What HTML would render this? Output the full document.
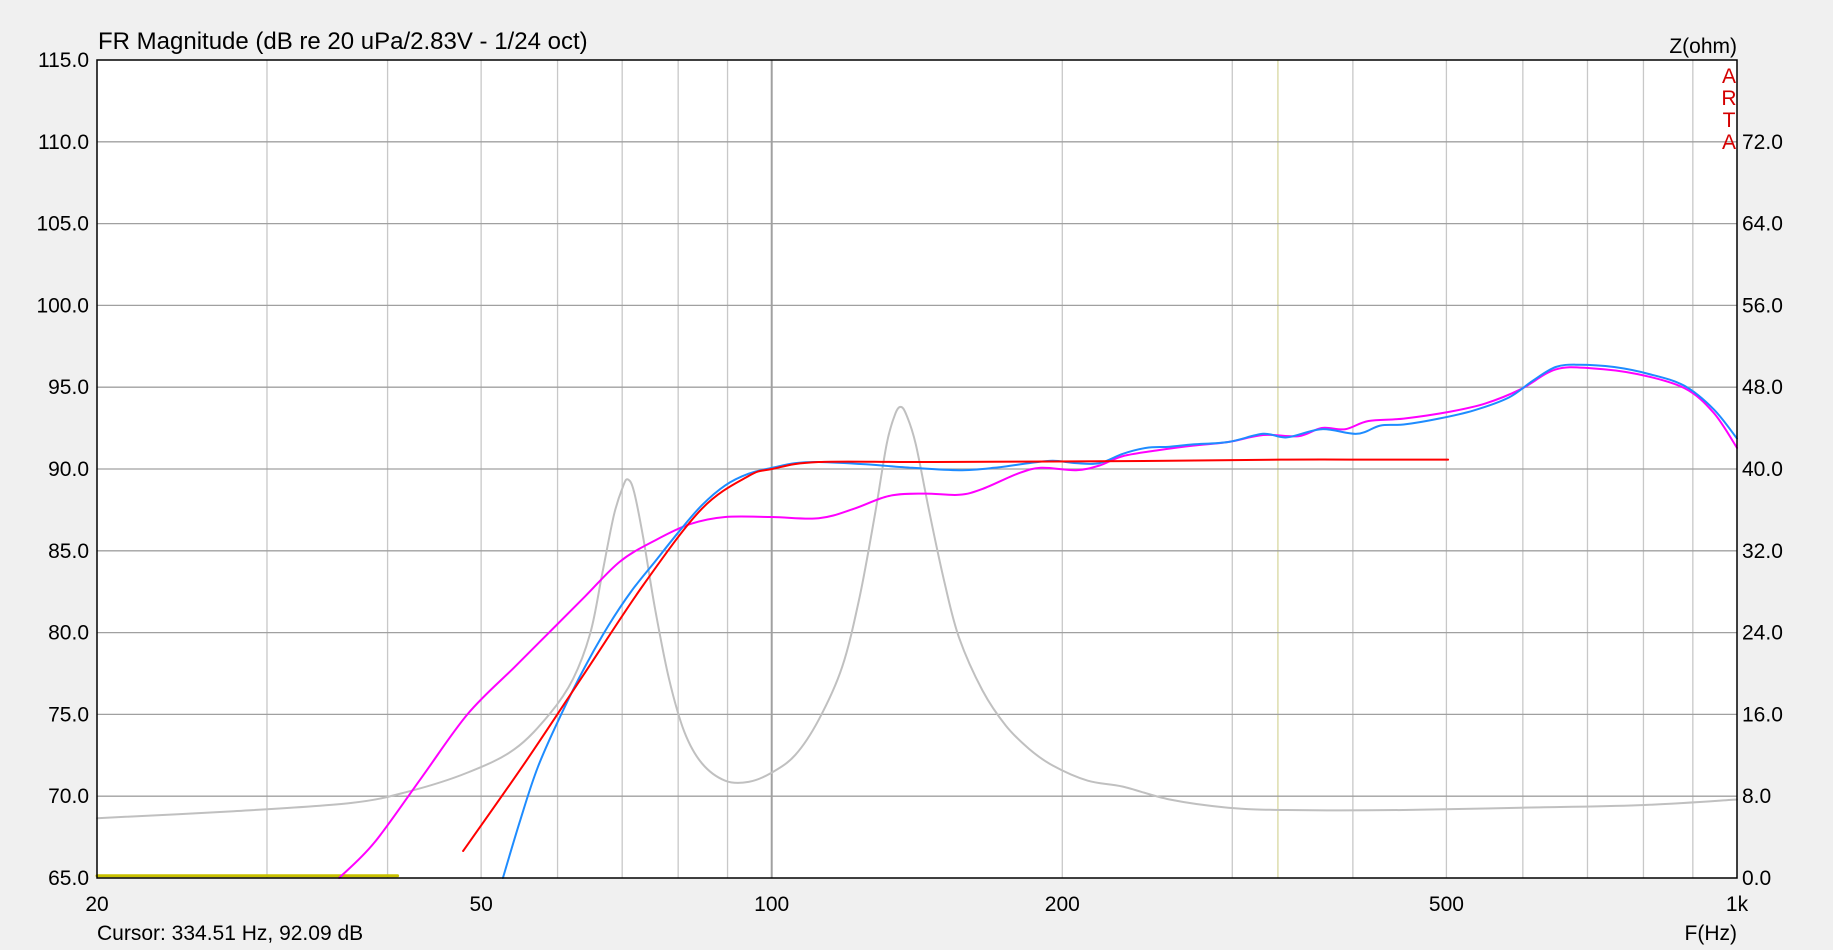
<!DOCTYPE html>
<html><head><meta charset="utf-8"><style>
html,body{margin:0;padding:0;background:#f0f0f0;}
svg{display:block;font-family:"Liberation Sans",sans-serif;}
</style></head><body>
<svg id="s" width="1833" height="950" viewBox="0 0 1833 950" xmlns="http://www.w3.org/2000/svg">
<rect x="0" y="0" width="1833" height="950" fill="#f0f0f0"/>
<rect x="97" y="60" width="1640" height="818" fill="#fff"/>
<g id="grid"></g>
<g id="curves" fill="none" stroke-linejoin="round" stroke-linecap="round"></g>
<rect x="97" y="60" width="1640" height="818" fill="none" stroke="#000" stroke-width="1.5"/>
<g font-size="21" fill="#000">
<text x="98" y="49" font-size="24">FR Magnitude (dB re 20 uPa/2.83V - 1/24 oct)</text>
<text x="1737" y="53" text-anchor="end">Z(ohm)</text>
<text x="97" y="940">Cursor: 334.51 Hz, 92.09 dB</text>
<text x="1737" y="940" text-anchor="end">F(Hz)</text>
</g>
<g font-size="21" fill="#d40000" text-anchor="middle">
<text x="1729" y="83">A</text><text x="1729" y="105">R</text><text x="1729" y="127">T</text><text x="1729" y="149">A</text>
</g>
<g id="labels" font-size="21" fill="#000"></g>
</svg>
<script>
const NS="http://www.w3.org/2000/svg";
const L=97,R=1737,T=60,B=878;
const fx=f=>L+Math.log10(f/20)/Math.log10(50)*(R-L);
const dy=d=>T+(115-d)/50*(B-T);
const g=document.getElementById('grid'),lab=document.getElementById('labels'),cv=document.getElementById('curves');
function el(p,n,a,t){const e=document.createElementNS(NS,n);for(const k in a)e.setAttribute(k,a[k]);if(t)e.textContent=t;p.appendChild(e);return e;}
const fr=[];for(let f=30;f<=100;f+=10)fr.push(f);for(let f=200;f<1000;f+=100)fr.push(f);
fr.forEach(f=>{const x=fx(f);el(g,'line',{x1:x,x2:x,y1:T,y2:B,stroke:f==100?'#a0a0a0':'#c8c8c8','stroke-width':f==100?2:1.3});});
el(g,'line',{x1:fx(334.51),x2:fx(334.51),y1:T,y2:B,stroke:'#d8d8a0','stroke-width':1.3});
for(let d=70;d<115;d+=5){const y=dy(d);el(g,'line',{x1:L,x2:R,y1:y,y2:y,stroke:'#a0a0a0','stroke-width':1.3});}
for(let d=65;d<=115;d+=5){const y=dy(d);el(lab,'text',{x:89,y:y+7,'text-anchor':'end'},d.toFixed(1));
 if(d<=110)el(lab,'text',{x:1742,y:y+7},((d-65)*1.6).toFixed(1));}
[[20,'20'],[50,'50'],[100,'100'],[200,'200'],[500,'500'],[1000,'1k']].forEach(([f,t])=>el(lab,'text',{x:fx(f),y:911,'text-anchor':'middle'},t));
const X=x=>97+(x-83)*1640/1402,Y=y=>60+(y-52)*818/698;
function curve(pts,col,w){const p=pts.map(q=>[X(q[0]),Y(q[1])]);let d='M'+p[0][0].toFixed(1)+','+p[0][1].toFixed(1);
 for(let i=0;i<p.length-1;i++){const p0=p[i-1]||p[i],p1=p[i],p2=p[i+1],p3=p[i+2]||p2;
  const c1=[p1[0]+(p2[0]-p0[0])/6,p1[1]+(p2[1]-p0[1])/6],c2=[p2[0]-(p3[0]-p1[0])/6,p2[1]-(p3[1]-p1[1])/6];
  d+=' C'+c1.map(v=>v.toFixed(1))+' '+c2.map(v=>v.toFixed(1))+' '+p2.map(v=>v.toFixed(1));}
 el(cv,'path',{d:d,stroke:col,'stroke-width':w});}
curve([[83,699],[200,693],[300,686],[350,676],[400,660],[440,640],[470,610],[490,580],[505,540],[515,490],[525,440],[533,415],[537,410],[542,420],[550,460],[560,520],[572,580],[585,625],[600,652],[620,667],[640,668],[660,660],[680,645],[700,615],[720,570],[735,510],[748,440],[758,380],[765,355],[770,348],[775,355],[783,380],[795,440],[808,500],[820,545],[840,590],[860,620],[880,640],[900,654],[930,667],[960,672],[1000,683],[1050,690],[1100,692],[1200,692],[1300,690],[1400,688],[1485,683]],'#c0c0c0',2);
curve([[83,748],[340,748]],'#c8c000',3);
curve([[290,750],[320,720],[360,665],[400,610],[440,570],[470,540],[500,510],[530,480],[560,462],[590,448],[620,442],[660,442],[700,443],[730,435],[760,424],[790,422],[820,423],[840,418],[870,405],[890,400],[920,402],[940,398],[960,390],[990,385],[1020,381],[1050,378],[1080,372],[1110,373],[1130,366],[1150,367],[1170,360],[1200,358],[1240,352],[1270,345],[1300,333],[1330,316],[1360,315],[1400,320],[1440,332],[1465,353],[1485,383]],'#ff00ff',2);
curve([[430,750],[445,700],[460,655],[480,610],[500,570],[520,535],[540,505],[560,480],[580,455],[600,432],[620,415],[640,405],[660,400],[680,396],[700,395],[740,397],[780,400],[820,402],[850,400],[880,396],[900,394],[920,396],[940,396],[960,388],[980,383],[1000,382],[1020,380],[1050,378],[1080,371],[1100,374],[1130,367],[1160,371],[1180,364],[1200,363],[1230,358],[1260,351],[1290,340],[1310,326],[1330,314],[1350,312],[1380,314],[1410,320],[1440,330],[1465,350],[1485,375]],'#1e8cff',2);
curve([[396,727],[450,650],[500,575],[550,500],[600,435],[640,407],[660,401],[700,395],[800,395],[1000,394],[1100,393],[1155,393],[1238,393]],'#ff0000',2);
</script>
</body></html>
